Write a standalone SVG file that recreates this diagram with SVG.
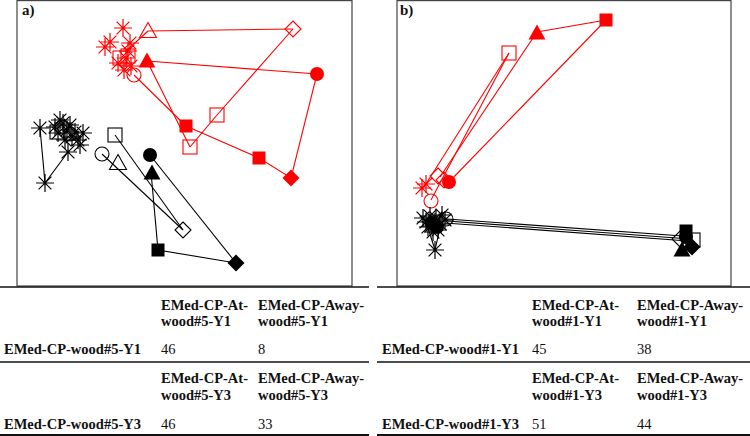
<svg xmlns="http://www.w3.org/2000/svg" xmlns:xlink="http://www.w3.org/1999/xlink" width="750" height="436" viewBox="0 0 750 436">
<style>
.frame{fill:none;stroke:#444;stroke-width:1.2}
.rule{stroke:#111;stroke-width:1.3}
.rule2{stroke:#111;stroke-width:2.2}
.red{color:#f00}
.blk{color:#000}
.ln{fill:none;stroke:currentColor;stroke-width:1.1}
.hd{font-family:"Liberation Serif","Times New Roman",serif;font-weight:bold;font-size:14.5px;fill:#111}
.num{font-family:"Liberation Serif","Times New Roman",serif;font-size:14.5px;fill:#111}
.lab{font-family:"Liberation Serif","Times New Roman",serif;font-weight:bold;font-size:15px;fill:#111}
</style>
<defs>
<g id="st"><path d="M-9,0H9M0,-9V9M-6.4,-6.4L6.4,6.4M-6.4,6.4L6.4,-6.4" fill="none" stroke="currentColor" stroke-width="1.2"/></g>
<g id="so"><rect x="-7" y="-7" width="14" height="14" fill="none" stroke="currentColor" stroke-width="1.1"/></g>
<g id="sf"><rect x="-6.5" y="-6.5" width="13" height="13" fill="currentColor"/></g>
<g id="co"><circle r="7" fill="none" stroke="currentColor" stroke-width="1.1"/></g>
<g id="cf"><circle r="7" fill="currentColor"/></g>
<g id="to"><polygon points="0,-8.5 8.5,6.5 -8.5,6.5" fill="none" stroke="currentColor" stroke-width="1.1"/></g>
<g id="tf"><polygon points="0,-8.5 8.5,6.5 -8.5,6.5" fill="currentColor"/></g>
<g id="do"><polygon points="0,-8 8,0 0,8 -8,0" fill="none" stroke="currentColor" stroke-width="1.1"/></g>
<g id="df"><polygon points="0,-8.5 8.5,0 0,8.5 -8.5,0" fill="currentColor"/></g>
</defs>
<rect width="750" height="436" fill="#fff"/>

<!-- panel a -->
<g id="panel-a">
<rect class="frame" x="17" y="0.6" width="335" height="285.4"/>
<text class="lab" x="22" y="15">a)</text>
<g id="connectors-a">
<g class="red">
<path class="ln" d="M148,31L293,29"/>
<path class="ln" d="M148,31L125,52"/>
<path class="ln" d="M293,29L217,115L190,147"/>
<path class="ln" d="M147,61L190,147"/>
<path class="ln" d="M134,75L186,126"/>
<path class="ln" d="M186,126L259,158L291,178L317,74L147,61"/>
</g>
<g class="blk">
<path class="ln" d="M40,128L45,183L68,152"/>
<path class="ln" d="M115,135L183,230"/>
<path class="ln" d="M102,154L183,230"/>
<path class="ln" d="M150,155L236,263"/>
<path class="ln" d="M151,172L158,250L236,263"/>
</g>
</g>
<g id="nodes-a-red" class="red">
<use xlink:href="#st" x="123" y="28"/>
<use xlink:href="#st" x="110" y="42"/>
<use xlink:href="#st" x="105" y="47"/>
<use xlink:href="#st" x="130" y="43"/>
<use xlink:href="#st" x="128" y="51"/>
<use xlink:href="#st" x="118" y="63"/>
<use xlink:href="#st" x="124" y="70"/>
<use xlink:href="#st" x="131" y="66"/>
<use xlink:href="#st" x="126" y="58"/>
<use xlink:href="#so" x="120" y="58"/>
<use xlink:href="#so" x="128" y="56"/>
<use xlink:href="#co" x="134" y="75"/>
<use xlink:href="#to" x="148" y="31"/>
<use xlink:href="#do" x="293" y="29"/>
<use xlink:href="#so" x="217" y="115"/>
<use xlink:href="#so" x="190" y="147"/>
<use xlink:href="#tf" x="147" y="61"/>
<use xlink:href="#cf" x="317" y="74"/>
<use xlink:href="#sf" x="186" y="126"/>
<use xlink:href="#sf" x="259" y="158"/>
<use xlink:href="#df" x="291" y="178"/>
</g>
<g id="nodes-a-black" class="blk">
<use xlink:href="#st" x="40" y="128"/>
<use xlink:href="#st" x="60" y="120"/>
<use xlink:href="#st" x="55" y="127"/>
<use xlink:href="#st" x="63" y="123"/>
<use xlink:href="#st" x="67" y="130"/>
<use xlink:href="#st" x="70" y="125"/>
<use xlink:href="#st" x="72" y="137"/>
<use xlink:href="#st" x="75" y="132"/>
<use xlink:href="#st" x="78" y="140"/>
<use xlink:href="#st" x="83" y="133"/>
<use xlink:href="#st" x="80" y="145"/>
<use xlink:href="#st" x="58" y="133"/>
<use xlink:href="#st" x="65" y="140"/>
<use xlink:href="#st" x="68" y="152"/>
<use xlink:href="#st" x="45" y="183"/>
<use xlink:href="#so" x="57" y="132"/>
<use xlink:href="#co" x="62" y="127"/>
<use xlink:href="#co" x="70" y="134"/>
<use xlink:href="#so" x="115" y="135"/>
<use xlink:href="#co" x="102" y="154"/>
<use xlink:href="#to" x="118" y="163"/>
<use xlink:href="#cf" x="150" y="155"/>
<use xlink:href="#tf" x="152" y="173"/>
<use xlink:href="#do" x="183" y="230"/>
<use xlink:href="#sf" x="158" y="250"/>
<use xlink:href="#df" x="236" y="263"/>
</g>
</g>

<!-- panel b -->
<g id="panel-b">
<rect class="frame" x="397" y="0.6" width="334" height="285.4"/>
<text class="lab" x="400" y="15">b)</text>
<g id="connectors-b">
<g class="red">
<path class="ln" d="M606,20L537,32"/>
<path class="ln" d="M606,20L449,182"/>
<path class="ln" d="M537,32L440,177"/>
<path class="ln" d="M509,53L424,187"/>
<path class="ln" d="M509,53L431,200"/>
</g>
<g class="blk">
<path class="ln" d="M447,219L683,236"/>
<path class="ln" d="M447,221L690,239"/>
<path class="ln" d="M445,223L688,241"/>
<path class="ln" d="M428,228L435,250L440,228"/>
</g>
</g>
<g id="nodes-b-red" class="red">
<use xlink:href="#sf" x="606" y="20"/>
<use xlink:href="#tf" x="537" y="33"/>
<use xlink:href="#so" x="509" y="53"/>
<use xlink:href="#do" x="438" y="176"/>
<use xlink:href="#do" x="444" y="180"/>
<use xlink:href="#cf" x="449" y="182"/>
<use xlink:href="#st" x="422" y="188"/>
<use xlink:href="#st" x="426" y="184"/>
<use xlink:href="#co" x="431" y="201"/>
</g>
<g id="nodes-b-black" class="blk">
<use xlink:href="#st" x="423" y="218"/>
<use xlink:href="#st" x="442" y="215"/>
<use xlink:href="#st" x="428" y="227"/>
<use xlink:href="#st" x="438" y="230"/>
<use xlink:href="#st" x="435" y="222"/>
<use xlink:href="#st" x="445" y="220"/>
<use xlink:href="#st" x="430" y="216"/>
<use xlink:href="#st" x="433" y="232"/>
<use xlink:href="#st" x="426" y="222"/>
<use xlink:href="#st" x="440" y="224"/>
<use xlink:href="#st" x="431" y="226"/>
<use xlink:href="#st" x="436" y="218"/>
<use xlink:href="#st" x="435" y="250"/>
<use xlink:href="#cf" x="432" y="223"/>
<use xlink:href="#cf" x="437" y="227"/>
<use xlink:href="#co" x="446" y="219"/>
<use xlink:href="#sf" x="686" y="231"/>
<use xlink:href="#cf" x="686" y="237"/>
<use xlink:href="#do" x="680" y="239"/>
<use xlink:href="#so" x="693" y="240"/>
<use xlink:href="#tf" x="682" y="250"/>
<use xlink:href="#df" x="692" y="247"/>
</g>
</g>

<!-- tables -->
<g id="table-a">
<line class="rule" x1="0" y1="287" x2="369" y2="287"/>
<text class="hd" x="161" y="310">EMed-CP-At-</text>
<text class="hd" x="161" y="326">wood#5-Y1</text>
<text class="hd" x="258" y="310">EMed-CP-Away-</text>
<text class="hd" x="258" y="326">wood#5-Y1</text>
<text class="hd" x="4" y="354">EMed-CP-wood#5-Y1</text>
<text class="num" x="161" y="354">46</text>
<text class="num" x="258" y="354">8</text>
<line class="rule" x1="0" y1="362" x2="369" y2="362"/>
<text class="hd" x="161" y="383">EMed-CP-At-</text>
<text class="hd" x="161" y="400">wood#5-Y3</text>
<text class="hd" x="258" y="383">EMed-CP-Away-</text>
<text class="hd" x="258" y="400">wood#5-Y3</text>
<text class="hd" x="4" y="429">EMed-CP-wood#5-Y3</text>
<text class="num" x="161" y="429">46</text>
<text class="num" x="258" y="429">33</text>
<line class="rule2" x1="0" y1="435" x2="369" y2="435"/>
</g>
<g id="table-b">
<line class="rule" x1="377" y1="287" x2="750" y2="287"/>
<text class="hd" x="532" y="310">EMed-CP-At-</text>
<text class="hd" x="532" y="326">wood#1-Y1</text>
<text class="hd" x="637" y="310">EMed-CP-Away-</text>
<text class="hd" x="637" y="326">wood#1-Y1</text>
<text class="hd" x="382" y="354">EMed-CP-wood#1-Y1</text>
<text class="num" x="532" y="354">45</text>
<text class="num" x="637" y="354">38</text>
<line class="rule" x1="377" y1="362" x2="750" y2="362"/>
<text class="hd" x="532" y="383">EMed-CP-At-</text>
<text class="hd" x="532" y="400">wood#1-Y3</text>
<text class="hd" x="637" y="383">EMed-CP-Away-</text>
<text class="hd" x="637" y="400">wood#1-Y3</text>
<text class="hd" x="382" y="429">EMed-CP-wood#1-Y3</text>
<text class="num" x="532" y="429">51</text>
<text class="num" x="637" y="429">44</text>
<line class="rule2" x1="377" y1="435" x2="750" y2="435"/>
</g>
</svg>
